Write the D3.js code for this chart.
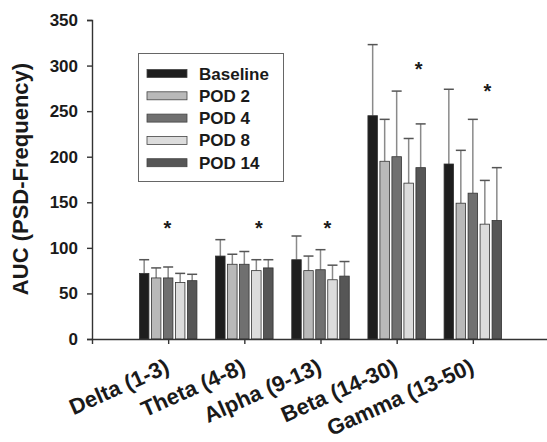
<!DOCTYPE html>
<html>
<head>
<meta charset="utf-8">
<script src="https://cdn.jsdelivr.net/npm/d3@7"></script>
<style>
  body { margin: 0; background: #fff; }
  svg text { font-family: "Liberation Sans", Arial, sans-serif; font-weight: bold; fill: #1a1a1a; }
</style>
</head>
<body>
<div id="chart"></div>
<script>
const bands = ['Delta (1-3)', 'Theta (4-8)', 'Alpha (9-13)', 'Beta (14-30)', 'Gamma (13-50)']
const groups = ['Baseline', 'POD 2', 'POD 4', 'POD 8', 'POD 14']
const colors = ['#1e1e1e', '#b9b9b9', '#707070', '#dcdcdc', '#565656']

// mean AUC per group, one value per band
const baseline = [72, 91, 87, 245, 192]
const pod2 = [67, 82, 75, 195, 149]
const pod4 = [67, 82, 76, 200, 160]
const pod8 = [62, 75, 65, 171, 126]
const pod14 = [64, 78, 69, 188, 130]

// upper error bar length
const errBaseline = [15, 18, 26, 78, 82]
const errPod2 = [11, 11, 16, 46, 58]
const errPod4 = [12, 14, 22, 72, 81]
const errPod8 = [10, 12, 16, 49, 48]
const errPod14 = [7, 9, 16, 48, 58]

// significance stars: height (AUC units) and shift within the band
const starY = [126, 126, 126, 301, 276]
const starShift = [-0.01, 0.19, 0.09, 0.29, 0.19]

const yTicks = [0, 50, 100, 150, 200, 250, 300, 350]

const means = [baseline, pod2, pod4, pod8, pod14]
const errs = [errBaseline, errPod2, errPod4, errPod8, errPod14]

const width = 547
const height = 442

const svg = d3.select('#chart')
.append('svg')
.attr('width', width)
.attr('height', height)

const x = d3.scaleLinear()
.domain([0, bands.length + 1])
.range([92, 549])

const y = d3.scaleLinear()
.domain([0, 350])
.range([339, 20])

const step = 12
const barW = 9.5

// bars
const data = []
bands.forEach((b, i) => {
    groups.forEach((g, j) => {
        data.push({band: i, group: j, value: means[j][i], err: errs[j][i]})
    })
})

const bx = d => x(d.band + 1) + (d.group - 2) * step

const errG = svg.append('g')

errG.selectAll('line.stem')
.data(data)
.enter().append('line')
.attr('class', 'stem')
.attr('x1', bx).attr('x2', bx)
.attr('y1', d => y(d.value))
.attr('y2', d => y(d.value + d.err))
.attr('stroke', '#8a8a8a')
.attr('stroke-width', 1.5)

errG.selectAll('line.cap')
.data(data)
.enter().append('line')
.attr('class', 'cap')
.attr('x1', d => bx(d) - 5).attr('x2', d => bx(d) + 5)
.attr('y1', d => y(d.value + d.err))
.attr('y2', d => y(d.value + d.err))
.attr('stroke', '#555')
.attr('stroke-width', 1.5)

svg.append('g')
.selectAll('rect')
.data(data)
.enter().append('rect')
.attr('x', d => bx(d) - barW / 2)
.attr('width', barW)
.attr('y', d => y(d.value))
.attr('height', d => y(0) - y(d.value))
.attr('fill', d => colors[d.group])
.attr('stroke', '#333')
.attr('stroke-width', 0.8)

// stars
svg.append('g')
.selectAll('text')
.data(starY)
.enter().append('text')
.attr('x', (d, i) => x(i + 1 + starShift[i]))
.attr('y', d => y(d) + 11)
.attr('text-anchor', 'middle')
.style('font-size', '20px')
.text('*')

// y axis
const yAxis = svg.append('g')
.attr('transform', `translate(${x(0)},0)`)
.call(d3.axisLeft(y).tickValues(yTicks).tickSizeOuter(0).tickSize(5).tickPadding(9))

yAxis.selectAll('text').style('font-size', '17px')

// x axis
const xAxis = svg.append('g')
.attr('transform', `translate(0,${y(0)})`)
.call(d3.axisBottom(x).tickValues(d3.range(1, bands.length + 1)).tickSizeOuter(0).tickSize(5).tickFormat(d => bands[d - 1]))

xAxis.selectAll('text')
.style('font-size', '22px')
.attr('text-anchor', 'end')
.attr('dy', 0)
.attr('y', 0)
.attr('transform', 'translate(2,33) rotate(-24)')

svg.selectAll('.domain, .tick line')
.attr('stroke', '#333')
.attr('stroke-width', 1.4)

// y label
svg.append('text')
.attr('transform', 'translate(28,179) rotate(-90)')
.attr('text-anchor', 'middle')
.style('font-size', '22px')
.text('AUC (PSD-Frequency)')

// legend
const legend = svg.append('g')

legend.append('rect')
.attr('x', 138.5).attr('y', 53.5)
.attr('width', 145).attr('height', 128)
.attr('fill', '#fff')
.attr('stroke', '#666')
.attr('stroke-width', 1)

const rows = legend.selectAll('g.row')
.data(groups)
.enter().append('g')
.attr('class', 'row')
.attr('transform', (d, i) => `translate(0,${73.5 + i * 22.3})`)

rows.append('rect')
.attr('x', 147).attr('y', -4)
.attr('width', 40).attr('height', 8)
.attr('fill', (d, i) => colors[i])
.attr('stroke', '#444')
.attr('stroke-width', 0.8)

rows.append('text')
.attr('x', 199).attr('y', 6)
.style('font-size', '17px')
.text(d => d)
</script>
</body>
</html>
